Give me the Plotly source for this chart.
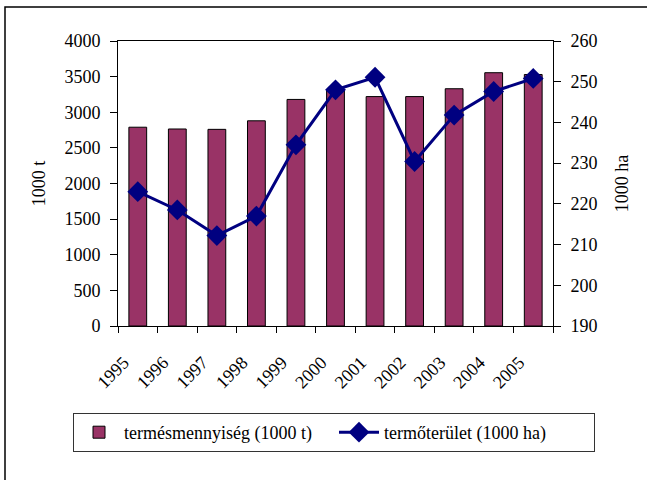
import plotly.graph_objects as go

years = ["1995", "1996", "1997", "1998", "1999", "2000", "2001", "2002", "2003", "2004", "2005"]
termes = [2790, 2765, 2760, 2880, 3180, 3310, 3220, 3220, 3330, 3555, 3530]
terulet = [223.0, 218.5, 212.2, 217.0, 234.5, 248.0, 251.1, 230.4, 241.8, 247.6, 250.8]

FONT = "Liberation Serif"

fig = go.Figure()
fig.add_trace(go.Bar(
    x=years, y=termes, name="termésmennyiség (1000 t)",
    marker=dict(color="#993366", line=dict(color="black", width=1)),
    width=0.45, yaxis="y",
))
fig.add_trace(go.Scatter(
    x=years, y=terulet, name="termőterület (1000 ha)", mode="lines+markers",
    line=dict(color="#000080", width=3),
    marker=dict(symbol="diamond", size=16, color="#000080"),
    yaxis="y2",
))

fig.update_layout(
    width=647, height=480,
    margin=dict(l=118, r=94, t=41, b=154, autoexpand=False),
    paper_bgcolor="white", plot_bgcolor="white",
    font=dict(family=FONT, size=18, color="black"),
    showlegend=True,
    legend=dict(orientation="h", x=(73 - 118) / 435, xanchor="left",
                y=-(413 - 326) / 285, yanchor="top",
                bordercolor="#333333", borderwidth=1, font=dict(size=18, family=FONT),
                traceorder="normal", itemwidth=40, entrywidth=205),
    xaxis=dict(type="category", range=[-0.5, 10.5], tickson="boundaries", showline=True,
               linecolor="black", linewidth=1, mirror=True, ticks="outside", ticklen=6,
               tickcolor="black", tickangle=-45, showgrid=False,
               tickfont=dict(size=18, family=FONT),
               automargin=False, ticklabelstandoff=18, ticklabelshift=-14),
    yaxis=dict(range=[0, 4000], dtick=500, showline=True, linecolor="black", linewidth=1,
               ticks="outside", ticklen=7, tickcolor="black", showgrid=False, zeroline=False,
               automargin=False, ticklabelstandoff=6, tickfont=dict(size=18, family=FONT),
               title=dict(text="1000 t", standoff=14, font=dict(size=18, family=FONT))),
    yaxis2=dict(range=[190, 260], dtick=10, overlaying="y", side="right", showline=True,
                linecolor="black", linewidth=1, ticks="outside", ticklen=7, tickcolor="black",
                showgrid=False, zeroline=False, automargin=False, ticklabelstandoff=6,
                tickfont=dict(size=18, family=FONT),
                title=dict(text="1000 ha", standoff=18, font=dict(size=18, family=FONT))),
    shapes=[dict(type="rect", xref="paper", yref="paper",
                 x0=(5 - 118) / 435, x1=(660 - 118) / 435,
                 y0=-(500 - 326) / 285, y1=(326 - 7) / 285,
                 line=dict(color="black", width=1.5), fillcolor="rgba(0,0,0,0)", layer="below")],
)

fig.write_html("out.html", config={"displayModeBar": False},
               post_script="document.body.style.margin='0';document.body.style.overflow='hidden';")
